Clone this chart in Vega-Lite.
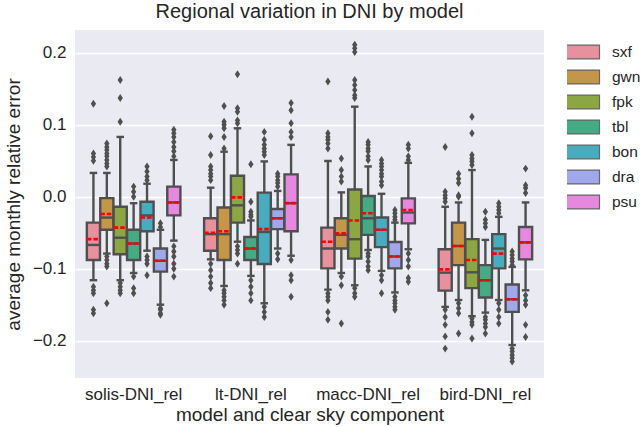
{
"$schema": "https://vega.github.io/schema/vega-lite/v6.json",
"width": 469, "height": 348,
"autosize": {"type": "none"},
"padding": {"left": 75, "top": 30, "right": 100, "bottom": 49},
"background": "white",
"title": {"text": "Regional variation in DNI by model", "fontSize": 20, "font": "Liberation Sans", "fontWeight": "normal", "color": "#262626", "anchor": "middle", "offset": 8},
"config": {
  "view": {"fill": "#eaeaf2", "stroke": null},
  "font": "Liberation Sans",
  "axis": {"labelFont": "Liberation Sans", "titleFont": "Liberation Sans", "labelColor": "#262626", "titleColor": "#262626", "labelFontSize": 17, "titleFontSize": 19, "titleFontWeight": "normal", "domain": false, "ticks": false},
  "legend": {"labelFont": "Liberation Sans", "labelColor": "#262626", "labelFontSize": 15.5}
},
"datasets": {
"stats": [
{"model":"solis-DNI_rel","site":"sxf","lo":-0.116,"q1":-0.088,"median":-0.067,"q3":-0.036,"hi":0.033,"mean":-0.059},
{"model":"solis-DNI_rel","site":"gwn","lo":-0.079,"q1":-0.046,"median":-0.029,"q3":-0.002,"hi":0.033,"mean":-0.024},
{"model":"solis-DNI_rel","site":"fpk","lo":-0.116,"q1":-0.080,"median":-0.057,"q3":-0.014,"hi":0.083,"mean":-0.043},
{"model":"solis-DNI_rel","site":"tbl","lo":-0.106,"q1":-0.088,"median":-0.065,"q3":-0.046,"hi":-0.009,"mean":-0.065},
{"model":"solis-DNI_rel","site":"bon","lo":-0.075,"q1":-0.048,"median":-0.026,"q3":-0.007,"hi":0.018,"mean":-0.029},
{"model":"solis-DNI_rel","site":"dra","lo":-0.150,"q1":-0.104,"median":-0.089,"q3":-0.072,"hi":-0.046,"mean":-0.089},
{"model":"solis-DNI_rel","site":"psu","lo":-0.061,"q1":-0.026,"median":-0.008,"q3":0.014,"hi":0.051,"mean":-0.008},
{"model":"lt-DNI_rel","site":"sxf","lo":-0.087,"q1":-0.075,"median":-0.052,"q3":-0.030,"hi":0.0125,"mean":-0.050},
{"model":"lt-DNI_rel","site":"gwn","lo":-0.124,"q1":-0.088,"median":-0.052,"q3":-0.015,"hi":0.0625,"mean":-0.048},
{"model":"lt-DNI_rel","site":"fpk","lo":-0.0625,"q1":-0.036,"median":-0.012,"q3":0.029,"hi":0.095,"mean":-0.001},
{"model":"lt-DNI_rel","site":"tbl","lo":-0.110,"q1":-0.088,"median":-0.072,"q3":-0.056,"hi":-0.033,"mean":-0.072},
{"model":"lt-DNI_rel","site":"bon","lo":-0.148,"q1":-0.0935,"median":-0.049,"q3":0.0056,"hi":0.049,"mean":-0.045},
{"model":"lt-DNI_rel","site":"dra","lo":-0.072,"q1":-0.045,"median":-0.030,"q3":-0.017,"hi":0.008,"mean":-0.030},
{"model":"lt-DNI_rel","site":"psu","lo":-0.082,"q1":-0.048,"median":-0.009,"q3":0.031,"hi":0.072,"mean":-0.009},
{"model":"macc-DNI_rel","site":"sxf","lo":-0.129,"q1":-0.0995,"median":-0.072,"q3":-0.043,"hi":0.0495,"mean":-0.0625},
{"model":"macc-DNI_rel","site":"gwn","lo":-0.106,"q1":-0.072,"median":-0.053,"q3":-0.030,"hi":0.006,"mean":-0.051},
{"model":"macc-DNI_rel","site":"fpk","lo":-0.123,"q1":-0.086,"median":-0.059,"q3":0.010,"hi":0.125,"mean":-0.033},
{"model":"macc-DNI_rel","site":"tbl","lo":-0.074,"q1":-0.053,"median":-0.030,"q3":0.001,"hi":0.042,"mean":-0.023},
{"model":"macc-DNI_rel","site":"bon","lo":-0.103,"q1":-0.070,"median":-0.046,"q3":-0.029,"hi":0.004,"mean":-0.046},
{"model":"macc-DNI_rel","site":"dra","lo":-0.133,"q1":-0.0995,"median":-0.083,"q3":-0.063,"hi":-0.036,"mean":-0.083},
{"model":"macc-DNI_rel","site":"psu","lo":-0.073,"q1":-0.037,"median":-0.022,"q3":-0.0023,"hi":0.047,"mean":-0.0185},
{"model":"bird-DNI_rel","site":"sxf","lo":-0.153,"q1":-0.1305,"median":-0.1055,"q3":-0.073,"hi":-0.014,"mean":-0.101},
{"model":"bird-DNI_rel","site":"gwn","lo":-0.1435,"q1":-0.095,"median":-0.0685,"q3":-0.036,"hi":-0.008,"mean":-0.0685},
{"model":"bird-DNI_rel","site":"fpk","lo":-0.166,"q1":-0.127,"median":-0.105,"q3":-0.059,"hi":0.037,"mean":-0.088},
{"model":"bird-DNI_rel","site":"tbl","lo":-0.161,"q1":-0.140,"median":-0.116,"q3":-0.095,"hi":-0.060,"mean":-0.116},
{"model":"bird-DNI_rel","site":"bon","lo":-0.1435,"q1":-0.0995,"median":-0.072,"q3":-0.052,"hi":-0.028,"mean":-0.079},
{"model":"bird-DNI_rel","site":"dra","lo":-0.206,"q1":-0.160,"median":-0.1425,"q3":-0.122,"hi":-0.0975,"mean":-0.1425},
{"model":"bird-DNI_rel","site":"psu","lo":-0.130,"q1":-0.087,"median":-0.0635,"q3":-0.042,"hi":-0.008,"mean":-0.0635}
],
"outliers": [
{"model":"solis-DNI_rel","site":"sxf","value":0.129},{"model":"solis-DNI_rel","site":"sxf","value":0.060},{"model":"solis-DNI_rel","site":"sxf","value":0.055},{"model":"solis-DNI_rel","site":"sxf","value":0.050},{"model":"solis-DNI_rel","site":"sxf","value":-0.125},{"model":"solis-DNI_rel","site":"sxf","value":-0.130},{"model":"solis-DNI_rel","site":"sxf","value":-0.134},{"model":"solis-DNI_rel","site":"sxf","value":-0.157},{"model":"solis-DNI_rel","site":"sxf","value":-0.162},
{"model":"solis-DNI_rel","site":"gwn","value":0.074},{"model":"solis-DNI_rel","site":"gwn","value":0.069},{"model":"solis-DNI_rel","site":"gwn","value":0.065},{"model":"solis-DNI_rel","site":"gwn","value":0.060},{"model":"solis-DNI_rel","site":"gwn","value":0.056},{"model":"solis-DNI_rel","site":"gwn","value":0.051},{"model":"solis-DNI_rel","site":"gwn","value":0.046},{"model":"solis-DNI_rel","site":"gwn","value":0.042},{"model":"solis-DNI_rel","site":"gwn","value":-0.083},{"model":"solis-DNI_rel","site":"gwn","value":-0.088},{"model":"solis-DNI_rel","site":"gwn","value":-0.093},{"model":"solis-DNI_rel","site":"gwn","value":-0.097},{"model":"solis-DNI_rel","site":"gwn","value":-0.148},
{"model":"solis-DNI_rel","site":"fpk","value":0.162},{"model":"solis-DNI_rel","site":"fpk","value":0.137},{"model":"solis-DNI_rel","site":"fpk","value":0.104},{"model":"solis-DNI_rel","site":"fpk","value":-0.120},{"model":"solis-DNI_rel","site":"fpk","value":-0.125},{"model":"solis-DNI_rel","site":"fpk","value":-0.130},{"model":"solis-DNI_rel","site":"fpk","value":-0.134},
{"model":"solis-DNI_rel","site":"tbl","value":0.014},{"model":"solis-DNI_rel","site":"tbl","value":0.007},{"model":"solis-DNI_rel","site":"tbl","value":0.000},{"model":"solis-DNI_rel","site":"tbl","value":-0.111},{"model":"solis-DNI_rel","site":"tbl","value":-0.127},{"model":"solis-DNI_rel","site":"tbl","value":-0.134},
{"model":"solis-DNI_rel","site":"bon","value":0.042},{"model":"solis-DNI_rel","site":"bon","value":0.035},{"model":"solis-DNI_rel","site":"bon","value":0.028},{"model":"solis-DNI_rel","site":"bon","value":0.023},{"model":"solis-DNI_rel","site":"bon","value":-0.083},{"model":"solis-DNI_rel","site":"bon","value":-0.088},{"model":"solis-DNI_rel","site":"bon","value":-0.093},{"model":"solis-DNI_rel","site":"bon","value":-0.109},
{"model":"solis-DNI_rel","site":"dra","value":-0.037},{"model":"solis-DNI_rel","site":"dra","value":-0.042},{"model":"solis-DNI_rel","site":"dra","value":-0.155},{"model":"solis-DNI_rel","site":"dra","value":-0.157},{"model":"solis-DNI_rel","site":"dra","value":-0.162},{"model":"solis-DNI_rel","site":"dra","value":-0.164},
{"model":"solis-DNI_rel","site":"psu","value":0.093},{"model":"solis-DNI_rel","site":"psu","value":0.088},{"model":"solis-DNI_rel","site":"psu","value":0.083},{"model":"solis-DNI_rel","site":"psu","value":0.076},{"model":"solis-DNI_rel","site":"psu","value":0.069},{"model":"solis-DNI_rel","site":"psu","value":0.063},{"model":"solis-DNI_rel","site":"psu","value":0.056},{"model":"solis-DNI_rel","site":"psu","value":-0.069},{"model":"solis-DNI_rel","site":"psu","value":-0.076},{"model":"solis-DNI_rel","site":"psu","value":-0.083},{"model":"solis-DNI_rel","site":"psu","value":-0.093},{"model":"solis-DNI_rel","site":"psu","value":-0.100},{"model":"solis-DNI_rel","site":"psu","value":-0.111},
{"model":"lt-DNI_rel","site":"sxf","value":0.084},{"model":"lt-DNI_rel","site":"sxf","value":0.058},{"model":"lt-DNI_rel","site":"sxf","value":0.042},{"model":"lt-DNI_rel","site":"sxf","value":0.037},{"model":"lt-DNI_rel","site":"sxf","value":0.032},{"model":"lt-DNI_rel","site":"sxf","value":0.028},{"model":"lt-DNI_rel","site":"sxf","value":0.023},{"model":"lt-DNI_rel","site":"sxf","value":-0.093},{"model":"lt-DNI_rel","site":"sxf","value":-0.102},{"model":"lt-DNI_rel","site":"sxf","value":-0.111},{"model":"lt-DNI_rel","site":"sxf","value":-0.120},{"model":"lt-DNI_rel","site":"sxf","value":-0.127},
{"model":"lt-DNI_rel","site":"gwn","value":0.126},{"model":"lt-DNI_rel","site":"gwn","value":0.104},{"model":"lt-DNI_rel","site":"gwn","value":0.100},{"model":"lt-DNI_rel","site":"gwn","value":0.095},{"model":"lt-DNI_rel","site":"gwn","value":0.083},{"model":"lt-DNI_rel","site":"gwn","value":0.067},{"model":"lt-DNI_rel","site":"gwn","value":-0.130},{"model":"lt-DNI_rel","site":"gwn","value":-0.134},{"model":"lt-DNI_rel","site":"gwn","value":-0.139},{"model":"lt-DNI_rel","site":"gwn","value":-0.144},{"model":"lt-DNI_rel","site":"gwn","value":-0.150},
{"model":"lt-DNI_rel","site":"fpk","value":0.170},{"model":"lt-DNI_rel","site":"fpk","value":0.123},{"model":"lt-DNI_rel","site":"fpk","value":0.118},{"model":"lt-DNI_rel","site":"fpk","value":0.106},{"model":"lt-DNI_rel","site":"fpk","value":0.102},{"model":"lt-DNI_rel","site":"fpk","value":-0.069},{"model":"lt-DNI_rel","site":"fpk","value":-0.074},{"model":"lt-DNI_rel","site":"fpk","value":-0.079},{"model":"lt-DNI_rel","site":"fpk","value":-0.093},
{"model":"lt-DNI_rel","site":"tbl","value":0.045},{"model":"lt-DNI_rel","site":"tbl","value":-0.007},{"model":"lt-DNI_rel","site":"tbl","value":-0.021},{"model":"lt-DNI_rel","site":"tbl","value":-0.025},{"model":"lt-DNI_rel","site":"tbl","value":-0.028},{"model":"lt-DNI_rel","site":"tbl","value":-0.116},{"model":"lt-DNI_rel","site":"tbl","value":-0.125},{"model":"lt-DNI_rel","site":"tbl","value":-0.134},{"model":"lt-DNI_rel","site":"tbl","value":-0.144},
{"model":"lt-DNI_rel","site":"bon","value":0.090},{"model":"lt-DNI_rel","site":"bon","value":0.079},{"model":"lt-DNI_rel","site":"bon","value":0.072},{"model":"lt-DNI_rel","site":"bon","value":0.067},{"model":"lt-DNI_rel","site":"bon","value":0.0625},{"model":"lt-DNI_rel","site":"bon","value":0.058},{"model":"lt-DNI_rel","site":"bon","value":-0.153},{"model":"lt-DNI_rel","site":"bon","value":-0.160},{"model":"lt-DNI_rel","site":"bon","value":-0.167},
{"model":"lt-DNI_rel","site":"dra","value":0.032},{"model":"lt-DNI_rel","site":"dra","value":0.028},{"model":"lt-DNI_rel","site":"dra","value":0.023},{"model":"lt-DNI_rel","site":"dra","value":0.019},{"model":"lt-DNI_rel","site":"dra","value":0.014},{"model":"lt-DNI_rel","site":"dra","value":-0.079},{"model":"lt-DNI_rel","site":"dra","value":-0.087},
{"model":"lt-DNI_rel","site":"psu","value":0.130},{"model":"lt-DNI_rel","site":"psu","value":0.120},{"model":"lt-DNI_rel","site":"psu","value":0.102},{"model":"lt-DNI_rel","site":"psu","value":0.090},{"model":"lt-DNI_rel","site":"psu","value":0.083},{"model":"lt-DNI_rel","site":"psu","value":-0.088},{"model":"lt-DNI_rel","site":"psu","value":-0.109},{"model":"lt-DNI_rel","site":"psu","value":-0.116},{"model":"lt-DNI_rel","site":"psu","value":-0.139},
{"model":"macc-DNI_rel","site":"sxf","value":0.160},{"model":"macc-DNI_rel","site":"sxf","value":0.088},{"model":"macc-DNI_rel","site":"sxf","value":0.083},{"model":"macc-DNI_rel","site":"sxf","value":0.079},{"model":"macc-DNI_rel","site":"sxf","value":0.074},{"model":"macc-DNI_rel","site":"sxf","value":0.067},{"model":"macc-DNI_rel","site":"sxf","value":-0.134},{"model":"macc-DNI_rel","site":"sxf","value":-0.139},{"model":"macc-DNI_rel","site":"sxf","value":-0.144},{"model":"macc-DNI_rel","site":"sxf","value":-0.160},{"model":"macc-DNI_rel","site":"sxf","value":-0.171},
{"model":"macc-DNI_rel","site":"gwn","value":0.053},{"model":"macc-DNI_rel","site":"gwn","value":0.037},{"model":"macc-DNI_rel","site":"gwn","value":0.028},{"model":"macc-DNI_rel","site":"gwn","value":0.021},{"model":"macc-DNI_rel","site":"gwn","value":-0.111},{"model":"macc-DNI_rel","site":"gwn","value":-0.123},{"model":"macc-DNI_rel","site":"gwn","value":-0.176},
{"model":"macc-DNI_rel","site":"fpk","value":0.211},{"model":"macc-DNI_rel","site":"fpk","value":0.206},{"model":"macc-DNI_rel","site":"fpk","value":0.201},{"model":"macc-DNI_rel","site":"fpk","value":0.162},{"model":"macc-DNI_rel","site":"fpk","value":0.155},{"model":"macc-DNI_rel","site":"fpk","value":0.148},{"model":"macc-DNI_rel","site":"fpk","value":0.141},{"model":"macc-DNI_rel","site":"fpk","value":0.137},{"model":"macc-DNI_rel","site":"fpk","value":-0.127},{"model":"macc-DNI_rel","site":"fpk","value":-0.134},{"model":"macc-DNI_rel","site":"fpk","value":-0.139},
{"model":"macc-DNI_rel","site":"tbl","value":0.076},{"model":"macc-DNI_rel","site":"tbl","value":0.072},{"model":"macc-DNI_rel","site":"tbl","value":0.067},{"model":"macc-DNI_rel","site":"tbl","value":0.063},{"model":"macc-DNI_rel","site":"tbl","value":0.056},{"model":"macc-DNI_rel","site":"tbl","value":0.051},{"model":"macc-DNI_rel","site":"tbl","value":-0.079},{"model":"macc-DNI_rel","site":"tbl","value":-0.083},{"model":"macc-DNI_rel","site":"tbl","value":-0.090},{"model":"macc-DNI_rel","site":"tbl","value":-0.097},{"model":"macc-DNI_rel","site":"tbl","value":-0.102},
{"model":"macc-DNI_rel","site":"bon","value":0.051},{"model":"macc-DNI_rel","site":"bon","value":0.046},{"model":"macc-DNI_rel","site":"bon","value":0.042},{"model":"macc-DNI_rel","site":"bon","value":0.037},{"model":"macc-DNI_rel","site":"bon","value":0.032},{"model":"macc-DNI_rel","site":"bon","value":0.028},{"model":"macc-DNI_rel","site":"bon","value":0.021},{"model":"macc-DNI_rel","site":"bon","value":0.016},{"model":"macc-DNI_rel","site":"bon","value":-0.109},{"model":"macc-DNI_rel","site":"bon","value":-0.116},{"model":"macc-DNI_rel","site":"bon","value":-0.134},
{"model":"macc-DNI_rel","site":"dra","value":-0.0185},{"model":"macc-DNI_rel","site":"dra","value":-0.023},{"model":"macc-DNI_rel","site":"dra","value":-0.028},{"model":"macc-DNI_rel","site":"dra","value":-0.032},{"model":"macc-DNI_rel","site":"dra","value":-0.139},{"model":"macc-DNI_rel","site":"dra","value":-0.144},{"model":"macc-DNI_rel","site":"dra","value":-0.148},{"model":"macc-DNI_rel","site":"dra","value":-0.153},{"model":"macc-DNI_rel","site":"dra","value":-0.157},
{"model":"macc-DNI_rel","site":"psu","value":0.072},{"model":"macc-DNI_rel","site":"psu","value":0.067},{"model":"macc-DNI_rel","site":"psu","value":0.056},{"model":"macc-DNI_rel","site":"psu","value":0.051},{"model":"macc-DNI_rel","site":"psu","value":-0.079},{"model":"macc-DNI_rel","site":"psu","value":-0.088},{"model":"macc-DNI_rel","site":"psu","value":-0.097},{"model":"macc-DNI_rel","site":"psu","value":-0.113},{"model":"macc-DNI_rel","site":"psu","value":-0.118},
{"model":"bird-DNI_rel","site":"sxf","value":0.069},{"model":"bird-DNI_rel","site":"sxf","value":0.007},{"model":"bird-DNI_rel","site":"sxf","value":0.002},{"model":"bird-DNI_rel","site":"sxf","value":-0.002},{"model":"bird-DNI_rel","site":"sxf","value":-0.007},{"model":"bird-DNI_rel","site":"sxf","value":-0.157},{"model":"bird-DNI_rel","site":"sxf","value":-0.167},{"model":"bird-DNI_rel","site":"sxf","value":-0.178},{"model":"bird-DNI_rel","site":"sxf","value":-0.194},{"model":"bird-DNI_rel","site":"sxf","value":-0.211},
{"model":"bird-DNI_rel","site":"gwn","value":0.032},{"model":"bird-DNI_rel","site":"gwn","value":0.025},{"model":"bird-DNI_rel","site":"gwn","value":0.019},{"model":"bird-DNI_rel","site":"gwn","value":0.002},{"model":"bird-DNI_rel","site":"gwn","value":0.000},{"model":"bird-DNI_rel","site":"gwn","value":-0.148},{"model":"bird-DNI_rel","site":"gwn","value":-0.155},{"model":"bird-DNI_rel","site":"gwn","value":-0.162},{"model":"bird-DNI_rel","site":"gwn","value":-0.190},
{"model":"bird-DNI_rel","site":"fpk","value":0.111},{"model":"bird-DNI_rel","site":"fpk","value":0.088},{"model":"bird-DNI_rel","site":"fpk","value":0.058},{"model":"bird-DNI_rel","site":"fpk","value":0.053},{"model":"bird-DNI_rel","site":"fpk","value":0.049},{"model":"bird-DNI_rel","site":"fpk","value":0.044},{"model":"bird-DNI_rel","site":"fpk","value":-0.169},{"model":"bird-DNI_rel","site":"fpk","value":-0.174},{"model":"bird-DNI_rel","site":"fpk","value":-0.178},{"model":"bird-DNI_rel","site":"fpk","value":-0.197},
{"model":"bird-DNI_rel","site":"tbl","value":-0.021},{"model":"bird-DNI_rel","site":"tbl","value":-0.032},{"model":"bird-DNI_rel","site":"tbl","value":-0.037},{"model":"bird-DNI_rel","site":"tbl","value":-0.042},{"model":"bird-DNI_rel","site":"tbl","value":-0.167},{"model":"bird-DNI_rel","site":"tbl","value":-0.171},{"model":"bird-DNI_rel","site":"tbl","value":-0.176},{"model":"bird-DNI_rel","site":"tbl","value":-0.181},{"model":"bird-DNI_rel","site":"tbl","value":-0.190},
{"model":"bird-DNI_rel","site":"bon","value":-0.009},{"model":"bird-DNI_rel","site":"bon","value":-0.014},{"model":"bird-DNI_rel","site":"bon","value":-0.0185},{"model":"bird-DNI_rel","site":"bon","value":-0.023},{"model":"bird-DNI_rel","site":"bon","value":-0.148},{"model":"bird-DNI_rel","site":"bon","value":-0.157},{"model":"bird-DNI_rel","site":"bon","value":-0.167},{"model":"bird-DNI_rel","site":"bon","value":-0.176},
{"model":"bird-DNI_rel","site":"dra","value":-0.076},{"model":"bird-DNI_rel","site":"dra","value":-0.081},{"model":"bird-DNI_rel","site":"dra","value":-0.086},{"model":"bird-DNI_rel","site":"dra","value":-0.090},{"model":"bird-DNI_rel","site":"dra","value":-0.095},{"model":"bird-DNI_rel","site":"dra","value":-0.211},{"model":"bird-DNI_rel","site":"dra","value":-0.215},{"model":"bird-DNI_rel","site":"dra","value":-0.220},{"model":"bird-DNI_rel","site":"dra","value":-0.224},{"model":"bird-DNI_rel","site":"dra","value":-0.229},
{"model":"bird-DNI_rel","site":"psu","value":0.039},{"model":"bird-DNI_rel","site":"psu","value":0.016},{"model":"bird-DNI_rel","site":"psu","value":0.012},{"model":"bird-DNI_rel","site":"psu","value":0.005},{"model":"bird-DNI_rel","site":"psu","value":-0.137},{"model":"bird-DNI_rel","site":"psu","value":-0.144},{"model":"bird-DNI_rel","site":"psu","value":-0.150},{"model":"bird-DNI_rel","site":"psu","value":-0.178},{"model":"bird-DNI_rel","site":"psu","value":-0.195}
]
},
"encoding": {
  "x": {"field": "model", "type": "nominal", "sort": ["solis-DNI_rel","lt-DNI_rel","macc-DNI_rel","bird-DNI_rel"], "scale": {"paddingInner": 0, "paddingOuter": 0}, "title": "model and clear sky component", "axis": {"labelAngle": 0, "labelPadding": 8, "titlePadding": 3, "grid": false}},
  "xOffset": {"field": "site", "type": "nominal", "sort": ["sxf","gwn","fpk","tbl","bon","dra","psu"], "scale": {"paddingInner": 0.02, "paddingOuter": 0.885}}
},
"layer": [
  {"data": {"name": "stats"}, "mark": {"type": "rule", "color": "#4f4f4f", "strokeWidth": 2.4},
   "encoding": {"y": {"field": "lo", "type": "quantitative", "scale": {"domain": [-0.2518, 0.2315], "nice": false, "zero": false}, "title": "average monthly relative error", "axis": {"values": [-0.2,-0.1,0,0.1,0.2], "format": ".1f", "gridColor": "white", "gridWidth": 1.5, "labelPadding": 9, "titlePadding": 9}}, "y2": {"field": "hi"}}},
  {"data": {"name": "stats"}, "mark": {"type": "tick", "color": "#4f4f4f", "size": 7.5, "thickness": 2.4, "opacity": 1},
   "encoding": {"y": {"field": "lo", "type": "quantitative"}}},
  {"data": {"name": "stats"}, "mark": {"type": "tick", "color": "#4f4f4f", "size": 7.5, "thickness": 2.4, "opacity": 1},
   "encoding": {"y": {"field": "hi", "type": "quantitative"}}},
  {"data": {"name": "stats"}, "mark": {"type": "bar", "stroke": "#4f4f4f", "strokeWidth": 2.4, "opacity": 1},
   "encoding": {"y": {"field": "q1", "type": "quantitative"}, "y2": {"field": "q3"},
     "color": {"field": "site", "type": "nominal", "sort": ["sxf","gwn","fpk","tbl","bon","dra","psu"],
       "scale": {"domain": ["sxf","gwn","fpk","tbl","bon","dra","psu"], "range": ["#e8919e","#c3964a","#8ba642","#45ab85","#47adbe","#a0a8ec","#e688dd"]},
       "legend": {"title": null, "orient": "none", "legendX": 492, "legendY": 14, "symbolType": "M-1.3,-0.5H1.3V0.5H-1.3Z", "symbolSize": 767, "symbolStrokeColor": "#666666", "symbolStrokeWidth": 1.2, "symbolOpacity": 1, "clipHeight": 16, "rowPadding": 8, "labelOffset": 16}}}},
  {"data": {"name": "stats"}, "mark": {"type": "tick", "color": "#4f4f4f", "size": 13, "thickness": 2.4, "opacity": 1},
   "encoding": {"y": {"field": "median", "type": "quantitative"}}},
  {"data": {"name": "stats"}, "mark": {"type": "point", "shape": "M-1,0H1", "size": 169, "filled": false, "stroke": "#ff0000", "strokeWidth": 2.6, "strokeDash": [4.5, 2], "opacity": 1},
   "encoding": {"y": {"field": "mean", "type": "quantitative"}}},
  {"data": {"name": "outliers"}, "mark": {"type": "point", "shape": "M0,-1.2L0.8,0L0,1.2L-0.8,0Z", "size": 44, "filled": true, "color": "#4f4f4f", "opacity": 1},
   "encoding": {"y": {"field": "value", "type": "quantitative"}}}
]
}
